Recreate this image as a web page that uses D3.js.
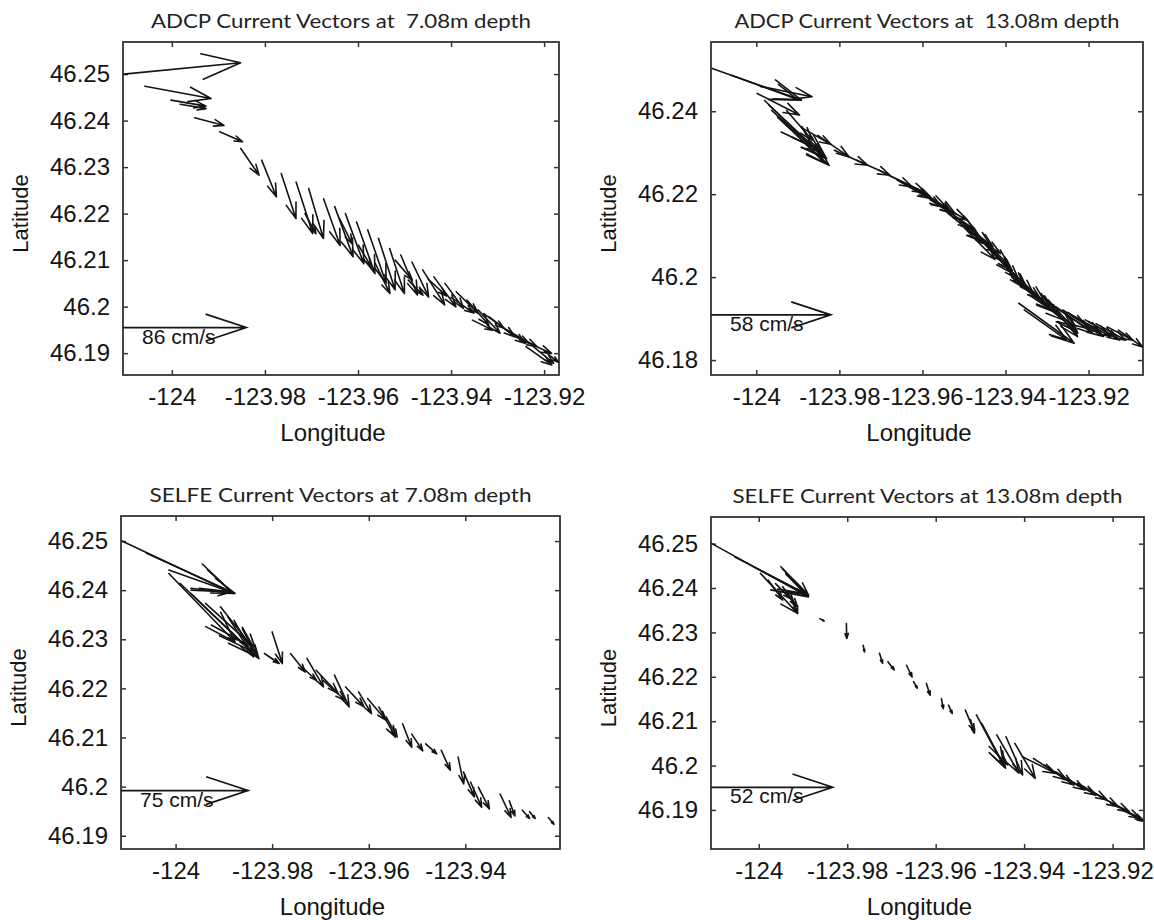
<!DOCTYPE html>
<html><head><meta charset="utf-8">
<script src="https://cdn.jsdelivr.net/npm/d3@7"></script>
<style>
html,body{margin:0;padding:0;background:#fff;}
svg{display:block;}
</style></head>
<body>
<svg id="chart" width="1154" height="920"></svg>
<script>
// ---------------- data ----------------
const titles = [
  "ADCP Current Vectors at  7.08m depth",
  "ADCP Current Vectors at  13.08m depth",
  "SELFE Current Vectors at 7.08m depth",
  "SELFE Current Vectors at 13.08m depth"
];
const scaleSpeeds = [86, 58, 75, 52];        // cm/s reference arrows
const scaleLats = [46.1955, 46.1909, 46.1992, 46.1951];
const quiverScale = [3.080e-4, 4.973e-4, 3.508e-4, 5.288e-4]; // deg per cm/s

const xTicks1 = [-124, -123.98, -123.96, -123.94, -123.92];
const xTicks3 = [-124, -123.98, -123.96, -123.94];
const yTicks1 = [46.19, 46.2, 46.21, 46.22, 46.23, 46.24, 46.25];
const yTicks2 = [46.18, 46.2, 46.22, 46.24];

const xDomains = [[-124.0105, -123.9168], [-124.0109, -123.9069], [-124.0113, -123.9204], [-124.0108, -123.9129]];
const yDomains = [[46.1853, 46.2569], [46.1764, 46.2567], [46.1873, 46.2551], [46.1812, 46.2560]];

// [lon, lat, u (cm/s), v (cm/s)]
const adcp7 = [
  [-124.0103, 46.2500, 81.4, 7.9], [-124.0058, 46.2474, 46.2, -8.6], [-124.0002, 46.2444, 24.4, -4.2],
  [-123.9982, 46.2435, 18.0, -3.0], [-123.9951, 46.2406, 20.5, -5.3], [-123.9897, 46.2376, 15.9, -7.0],
  [-123.9852, 46.2340, 12.8, -18.6], [-123.9807, 46.2315, 10.3, -25.6], [-123.9765, 46.2286, 10.3, -31.4],
  [-123.9733, 46.2268, 11.6, -36.0], [-123.9706, 46.2254, 10.3, -34.9], [-123.9674, 46.2232, 11.6, -32.6],
  [-123.9650, 46.2215, 12.8, -34.9], [-123.9627, 46.2200, 12.8, -34.9], [-123.9603, 46.2182, 12.8, -36.0],
  [-123.9579, 46.2165, 12.8, -37.2], [-123.9556, 46.2147, 11.6, -36.0], [-123.9532, 46.2125, 10.3, -31.4],
  [-123.9508, 46.2111, 11.6, -27.9], [-123.9484, 46.2096, 11.6, -24.4], [-123.9461, 46.2079, 15.4, -24.4],
  [-123.9437, 46.2064, 15.4, -20.9], [-123.9413, 46.2050, 12.8, -17.4], [-123.9389, 46.2032, 15.4, -15.1],
  [-123.9366, 46.2014, 15.4, -17.4], [-123.9342, 46.1993, 15.4, -16.3], [-123.9318, 46.1978, 18.0, -14.0],
  [-123.9295, 46.1960, 18.0, -12.8], [-123.9271, 46.1943, 18.0, -9.3], [-123.9247, 46.1928, 20.5, -9.3],
  [-123.9223, 46.1914, 14.1, -11.6], [-123.9714, 46.2200, 7.7, -14.0], [-123.9599, 46.2132, 9.0, -15.1],
  [-123.9563, 46.2093, 10.3, -20.9], [-123.9492, 46.2057, 10.3, -10.5], [-123.9354, 46.1971, 14.1, -7.0],
  [-123.9239, 46.1914, 18.0, -12.8], [-123.9640, 46.2190, 9.0, -18.0], [-123.9520, 46.2100, 12.0, -14.0],
  [-123.9450, 46.2060, 13.0, -12.0], [-123.9400, 46.2020, 16.0, -11.0], [-123.9330, 46.1985, 14.0, -10.0],
  [-123.9280, 46.1950, 15.0, -9.0], [-123.9200, 46.1905, 10.0, -8.0]
];
const adcp13 = [
  [-124.0106, 46.2503, 43.2, -15.3], [-124.0060, 46.2487, 32.1, -11.8], [-123.9998, 46.2443, 20.5, -10.5],
  [-123.9980, 46.2426, 23.2, -22.6], [-123.9963, 46.2402, 25.0, -22.6], [-123.9949, 46.2386, 25.0, -23.4],
  [-123.9940, 46.2350, 18.7, -8.9], [-123.9927, 46.2402, 12.5, -14.5], [-123.9852, 46.2342, 15.2, -10.5],
  [-123.9812, 46.2306, 16.1, -7.3], [-123.9758, 46.2282, 16.1, -7.3], [-123.9705, 46.2258, 16.1, -8.1],
  [-123.9661, 46.2234, 16.1, -8.9], [-123.9652, 46.2230, 14.3, -7.3], [-123.9625, 46.2218, 14.3, -9.7],
  [-123.9599, 46.2206, 14.3, -10.5], [-123.9581, 46.2186, 17.8, -9.7], [-123.9554, 46.2170, 16.1, -11.3],
  [-123.9537, 46.2153, 16.1, -12.9], [-123.9510, 46.2137, 16.1, -12.9], [-123.9492, 46.2113, 16.1, -11.3],
  [-123.9474, 46.2105, 16.1, -14.5], [-123.9457, 46.2089, 14.3, -14.5], [-123.9439, 46.2073, 14.3, -16.1],
  [-123.9421, 46.2049, 14.3, -14.5], [-123.9404, 46.2033, 14.3, -14.5], [-123.9390, 46.2009, 15.2, -12.9],
  [-123.9377, 46.1993, 17.8, -14.5], [-123.9359, 46.1977, 19.6, -16.1], [-123.9368, 46.1937, 26.8, -19.4],
  [-123.9355, 46.1921, 20.5, -14.5], [-123.9333, 46.1965, 19.6, -18.6], [-123.9315, 46.1961, 17.8, -21.0],
  [-123.9297, 46.1945, 14.3, -16.1], [-123.9279, 46.1929, 17.8, -12.9], [-123.9262, 46.1921, 19.6, -12.9],
  [-123.9235, 46.1905, 17.8, -9.7], [-123.9208, 46.1897, 14.3, -8.1], [-123.9182, 46.1888, 14.3, -8.1],
  [-123.9155, 46.1880, 12.5, -6.5], [-123.9128, 46.1872, 11.6, -8.1],
  [-123.9680, 46.2245, 18.0, -8.5], [-123.9640, 46.2222, 20.0, -11.0], [-123.9612, 46.2212, 18.5, -12.0],
  [-123.9570, 46.2180, 19.0, -13.0], [-123.9545, 46.2160, 18.0, -15.0], [-123.9520, 46.2145, 17.0, -14.0],
  [-123.9500, 46.2120, 15.0, -15.5], [-123.9465, 46.2095, 16.0, -17.0], [-123.9448, 46.2080, 13.0, -13.0],
  [-123.9430, 46.2060, 15.5, -17.5], [-123.9412, 46.2040, 12.0, -12.0], [-123.9395, 46.2020, 18.0, -16.0],
  [-123.9385, 46.2000, 21.0, -17.0], [-123.9340, 46.1955, 22.0, -15.0], [-123.9300, 46.1940, 20.0, -13.0],
  [-123.9250, 46.1915, 16.0, -10.0], [-123.9200, 46.1893, 15.0, -9.0],
  [-123.9970, 46.2415, 28.0, -26.0], [-123.9935, 46.2375, 20.0, -20.0], [-123.9890, 46.2360, 14.0, -8.0],
  [-123.9990, 46.2460, 25.0, -5.0]
];
const selfe7 = [
  [-124.0111, 46.2500, 65.7, -30.4], [-124.0060, 46.2475, 50.0, -22.3], [-124.0014, 46.2441, 39.1, -13.6],
  [-123.9968, 46.2400, 23.9, -1.0], [-124.0014, 46.2434, 39.1, -39.8], [-123.9991, 46.2414, 41.3, -38.8],
  [-123.9968, 46.2393, 39.1, -36.8], [-123.9938, 46.2373, 28.3, -25.2], [-123.9926, 46.2329, 16.3, -8.7],
  [-123.9907, 46.2366, 21.7, -27.1], [-123.9892, 46.2346, 15.2, -23.3], [-123.9877, 46.2332, 14.1, -20.4],
  [-123.9800, 46.2315, 6.0, -18.4], [-123.9816, 46.2271, 8.7, -5.8], [-123.9762, 46.2271, 8.7, -10.7],
  [-123.9728, 46.2261, 9.8, -16.5], [-123.9739, 46.2244, 8.7, -7.8], [-123.9709, 46.2237, 13.0, -13.6],
  [-123.9671, 46.2227, 8.7, -18.4], [-123.9694, 46.2216, 13.0, -11.6], [-123.9648, 46.2203, 10.9, -11.6],
  [-123.9621, 46.2193, 7.6, -12.6], [-123.9602, 46.2179, 10.9, -12.6], [-123.9579, 46.2162, 9.8, -17.5],
  [-123.9564, 46.2142, 6.5, -11.6], [-123.9530, 46.2128, 5.4, -13.6], [-123.9511, 46.2107, 6.5, -9.7],
  [-123.9482, 46.2087, 6.5, -5.8], [-123.9450, 46.2074, 5.4, -11.6], [-123.9415, 46.2060, 3.3, -15.5],
  [-123.9404, 46.2030, 6.5, -14.5], [-123.9389, 46.2009, 6.5, -14.5], [-123.9373, 46.1999, 6.5, -12.6],
  [-123.9328, 46.1985, 6.5, -13.6], [-123.9309, 46.1971, 3.3, -8.7], [-123.9282, 46.1952, 4.3, -4.8],
  [-123.9267, 46.1949, 3.3, -3.9], [-123.9228, 46.1937, 3.3, -3.9]
];
const selfe13 = [
  [-124.0106, 46.2500, 41.3, -22.7], [-124.0054, 46.2470, 29.9, -15.6], [-124.0012, 46.2448, 23.6, -12.1],
  [-123.9996, 46.2433, 15.8, -17.0], [-123.9979, 46.2418, 6.3, -8.5], [-123.9962, 46.2410, 6.3, -6.4],
  [-123.9946, 46.2403, 6.3, -8.5], [-123.9950, 46.2448, 11.8, -12.1], [-123.9929, 46.2391, 3.2, -9.2],
  [-123.9862, 46.2331, 1.9, -1.0], [-123.9802, 46.2320, 0.2, -6.4], [-123.9764, 46.2271, 0.6, -2.8],
  [-123.9727, 46.2253, 1.3, -4.3], [-123.9708, 46.2234, 2.7, -3.5], [-123.9666, 46.2226, 2.4, -5.0],
  [-123.9650, 46.2189, 1.6, -2.8], [-123.9621, 46.2185, 1.6, -5.0], [-123.9587, 46.2151, 0.8, -4.3],
  [-123.9571, 46.2136, 1.6, -3.5], [-123.9533, 46.2125, 3.9, -9.2], [-123.9521, 46.2103, 1.6, -5.7],
  [-123.9508, 46.2114, 11.8, -22.0], [-123.9496, 46.2095, 10.2, -19.1], [-123.9462, 46.2069, 9.5, -16.3],
  [-123.9441, 46.2065, 7.1, -16.3], [-123.9421, 46.2050, 8.7, -14.9], [-123.9479, 46.2043, 7.9, -7.8],
  [-123.9404, 46.2020, 14.2, -7.1], [-123.9379, 46.2016, 14.2, -9.2], [-123.9354, 46.2001, 12.6, -8.5],
  [-123.9329, 46.1986, 12.6, -7.8], [-123.9304, 46.1971, 12.6, -7.1], [-123.9279, 46.1960, 12.6, -7.1],
  [-123.9254, 46.1945, 12.6, -7.1], [-123.9229, 46.1930, 12.6, -6.4], [-123.9204, 46.1915, 12.6, -6.4],
  [-123.9179, 46.1900, 9.1, -4.3], [-123.9162, 46.1893, 5.5, -3.5]
];
const vectorSets = [adcp7, adcp13, selfe7, selfe13];
const xTickSets = [xTicks1, xTicks1, xTicks3, xTicks1];
const yTickSets = [yTicks1, yTicks2, yTicks1, yTicks1];

// ---------------- layout ----------------
const boxes = [
  {l: 123, r: 559, t: 42, b: 375},
  {l: 711, r: 1143, t: 42, b: 375},
  {l: 121, r: 560, t: 516, b: 849},
  {l: 711, r: 1144, t: 517, b: 849}
];
const titleWidths = [380, 385, 382, 390];

const svg = d3.select("#chart");
const tickFont = "'Liberation Sans', Arial, sans-serif";
const titleFont = "Lato, 'Open Sans', sans-serif";
const ink = "#141414";

function arrowPath(x0, y0, x1, y1) {
  const du = x1 - x0, dv = y1 - y0, a = 0.33, b = 0.33;
  const bx1 = x1 - a * (du + b * dv), by1 = y1 - a * (dv - b * du);
  const bx2 = x1 - a * (du - b * dv), by2 = y1 - a * (dv + b * du);
  return `M${x0},${y0}L${x1},${y1}M${bx1},${by1}L${x1},${y1}L${bx2},${by2}`;
}

boxes.forEach((bx, i) => {
  const g = svg.append("g");
  const x = d3.scaleLinear().domain(xDomains[i]).range([bx.l, bx.r]);
  const y = d3.scaleLinear().domain(yDomains[i]).range([bx.b, bx.t]);
  const w = bx.r - bx.l, h = bx.b - bx.t;
  const fmt = d => String(d);

  const ax = [
    g.append("g").attr("transform", `translate(0,${bx.b})`).call(d3.axisBottom(x).tickValues(xTickSets[i]).tickSize(-5).tickPadding(13).tickFormat(fmt)),
    g.append("g").attr("transform", `translate(0,${bx.t})`).call(d3.axisTop(x).tickValues(xTickSets[i]).tickSize(-5).tickFormat("")),
    g.append("g").attr("transform", `translate(${bx.l},0)`).call(d3.axisLeft(y).tickValues(yTickSets[i]).tickSize(-5).tickPadding(13).tickFormat(fmt)),
    g.append("g").attr("transform", `translate(${bx.r},0)`).call(d3.axisRight(y).tickValues(yTickSets[i]).tickSize(-5).tickFormat(""))
  ];
  ax.forEach(a => {
    a.select(".domain").remove();
    a.selectAll(".tick line").attr("stroke", "#333").attr("stroke-width", 1.5);
    a.selectAll(".tick text").attr("fill", ink).style("font-family", tickFont).style("font-size", "24px");
  });

  g.append("rect").attr("x", bx.l).attr("y", bx.t).attr("width", w).attr("height", h)
    .attr("fill", "none").attr("stroke", "#333").attr("stroke-width", 1.8);

  const cid = "clip" + i;
  svg.append("clipPath").attr("id", cid).append("rect")
    .attr("x", bx.l).attr("y", bx.t).attr("width", w).attr("height", h);

  const k = quiverScale[i];
  const vg = g.append("g").attr("clip-path", `url(#${cid})`);
  vg.selectAll("path.vec").data(vectorSets[i]).join("path").attr("class", "vec")
    .attr("d", d => arrowPath(x(d[0]), y(d[1]), x(d[0] + d[2] * k), y(d[1] + d[3] * k)))
    .attr("fill", "none").attr("stroke", ink).attr("stroke-width", 1.6)
    .attr("stroke-linejoin", "round").attr("stroke-linecap", "round");

  const x0 = xDomains[i][0], yl = scaleLats[i];
  vg.append("path")
    .attr("d", arrowPath(x(x0), y(yl), x(x0 + scaleSpeeds[i] * k), y(yl)))
    .attr("fill", "none").attr("stroke", ink).attr("stroke-width", 1.7);
  g.append("text").attr("x", bx.l + 19).attr("y", y(yl) + 16)
    .attr("fill", ink).style("font-family", tickFont).style("font-size", "21px")
    .text(scaleSpeeds[i] + " cm/s");

  g.append("text").attr("x", (bx.l + bx.r) / 2).attr("y", bx.t - 14)
    .attr("text-anchor", "middle").attr("fill", "#222")
    .attr("textLength", titleWidths[i]).attr("lengthAdjust", "spacingAndGlyphs")
    .style("white-space", "pre")
    .style("font-family", titleFont).style("font-size", "20px")
    .text(titles[i]);

  g.append("text").attr("x", (bx.l + bx.r) / 2 - 8).attr("y", bx.b + 66)
    .attr("text-anchor", "middle").attr("fill", ink)
    .style("font-family", tickFont).style("font-size", "24px").text("Longitude");
  g.append("text").attr("transform", `translate(${bx.l - 95},${(bx.t + bx.b) / 2 + 5}) rotate(-90)`)
    .attr("text-anchor", "middle").attr("fill", ink)
    .style("font-family", tickFont).style("font-size", "22px").text("Latitude");
});
</script>
</body></html>
